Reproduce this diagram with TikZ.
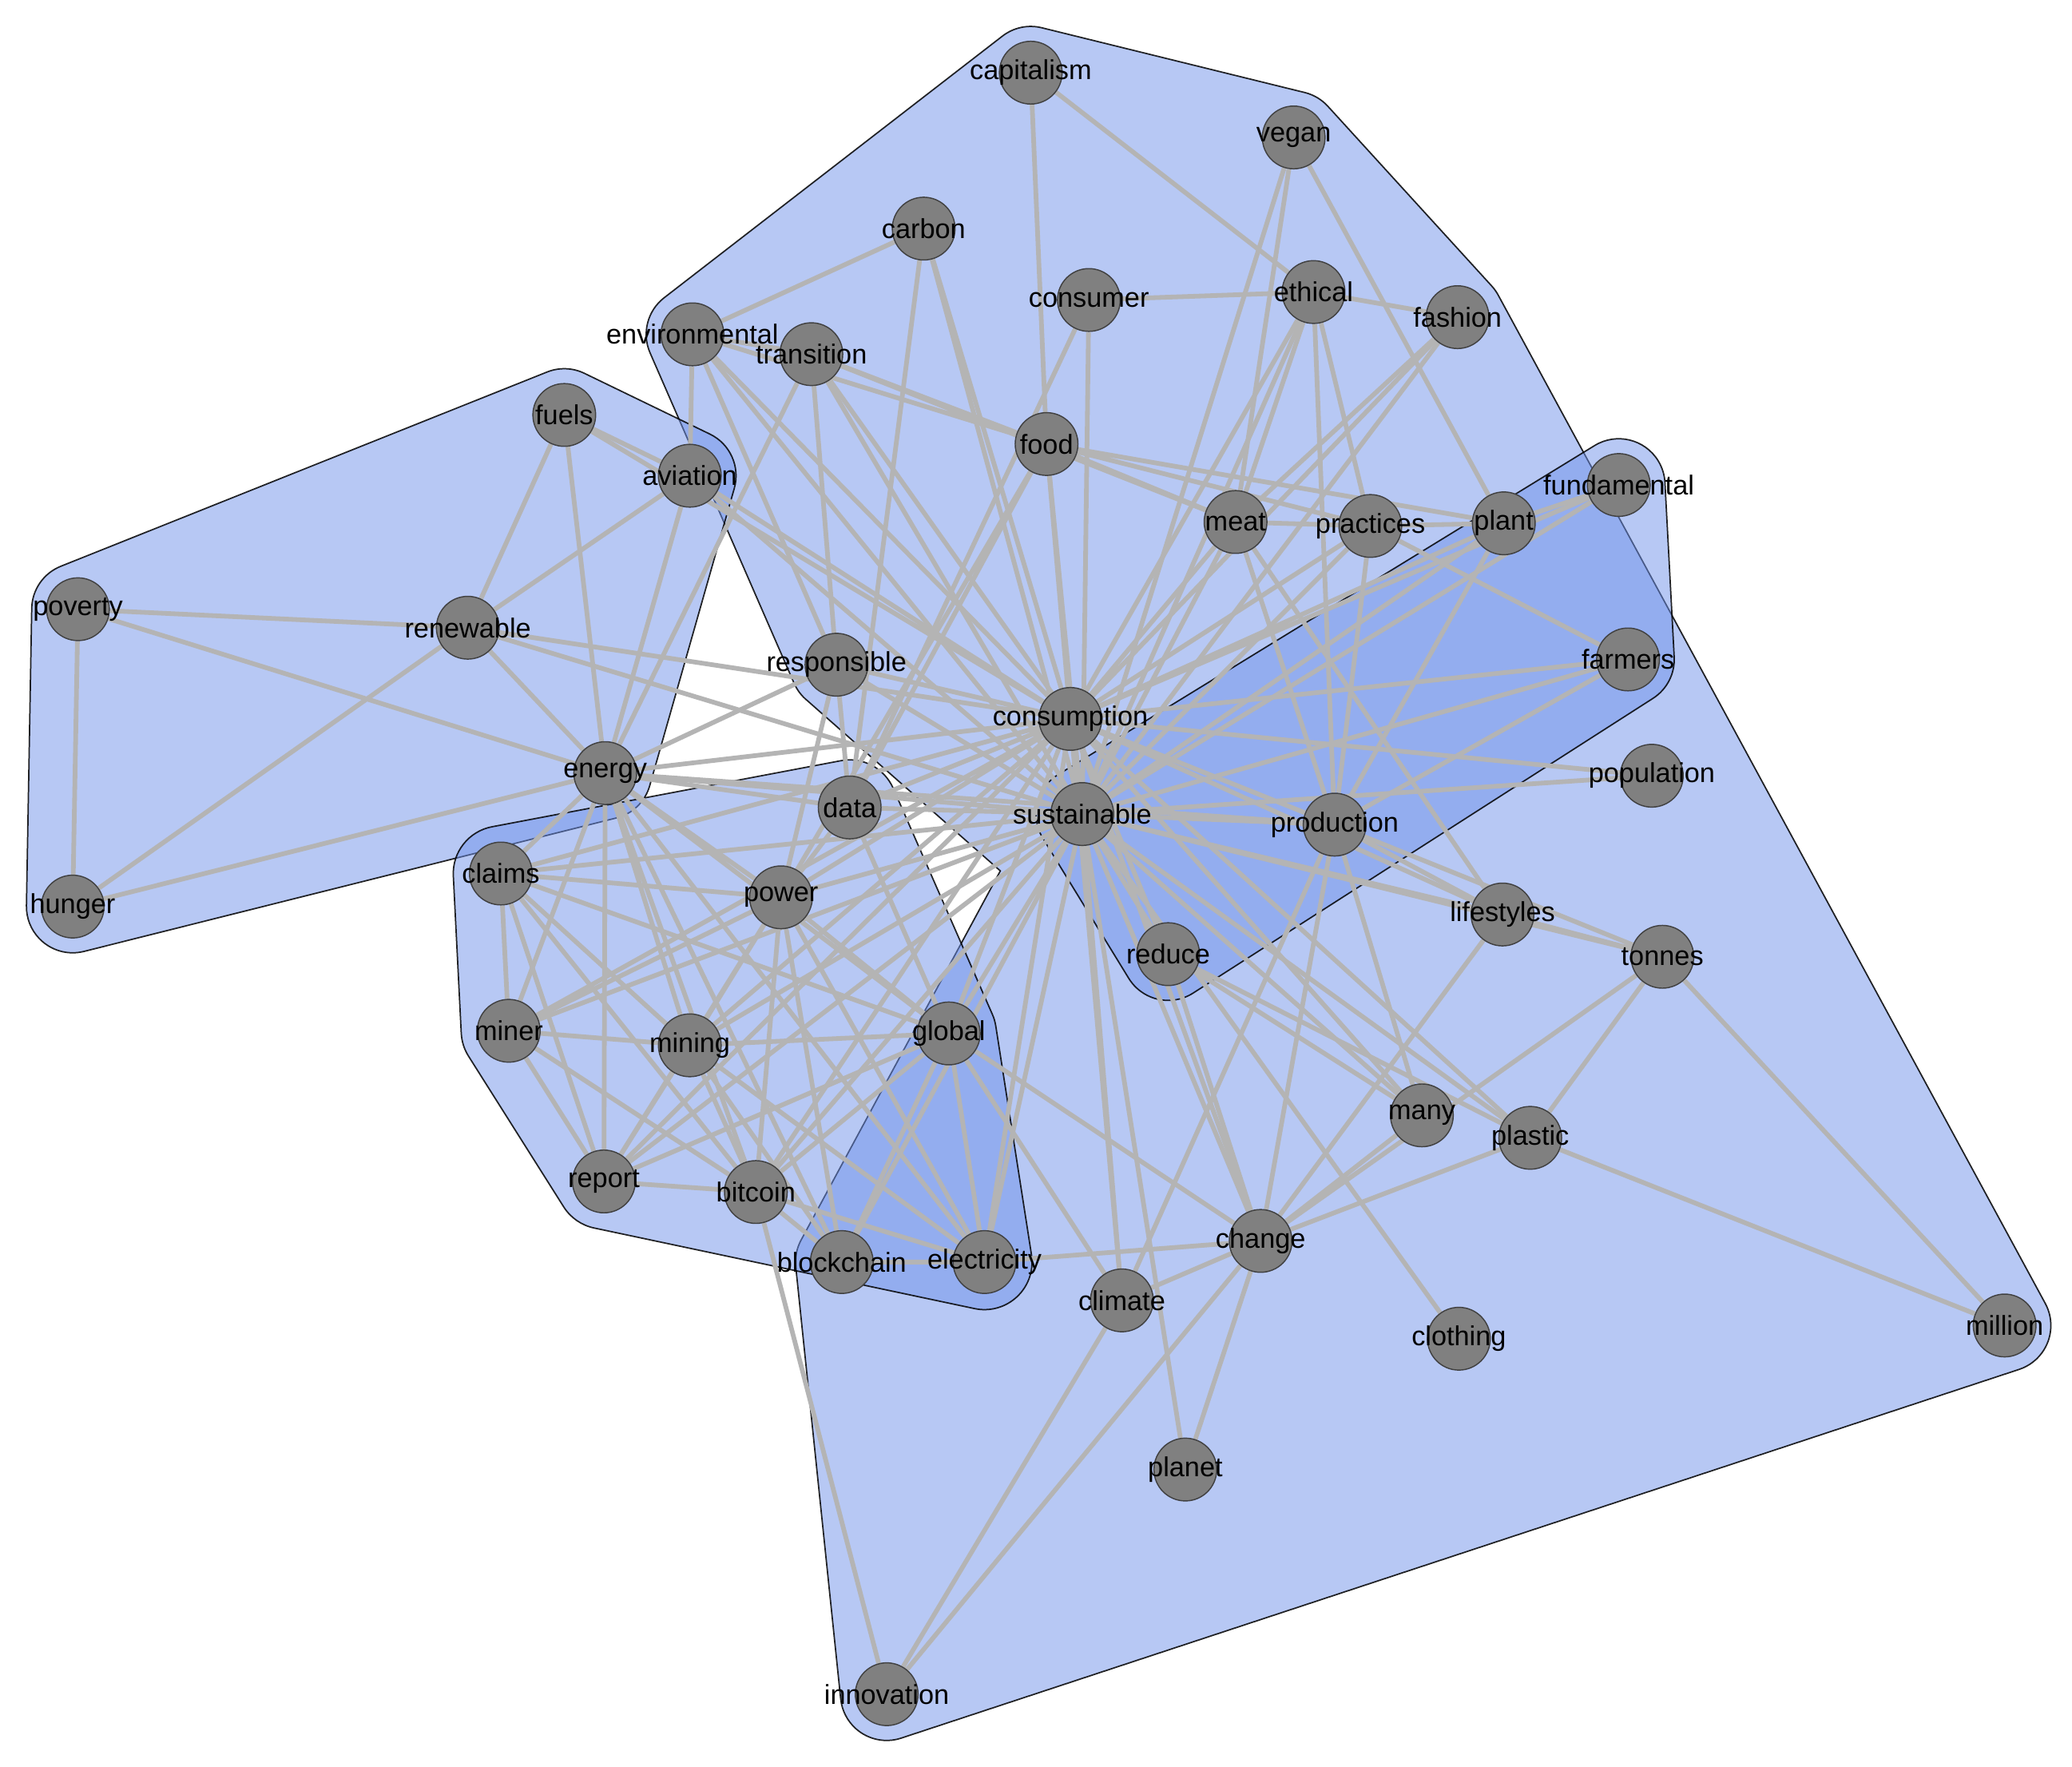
\documentclass[tikz,border=0pt]{standalone}
\usepackage{fontspec}
\setmainfont{Liberation Sans}
\usetikzlibrary{calc}
\definecolor{hullblue}{RGB}{113,147,235}
\definecolor{linkgray}{RGB}{180,180,180}
\definecolor{wordgray}{RGB}{128,128,128}
\definecolor{wordrim}{RGB}{64,64,64}
\pgfdeclarelayer{hulls}
\pgfdeclarelayer{links}
\pgfsetlayers{hulls,links,main}
\tikzset{
  word/.style={circle, draw=wordrim, fill=wordgray, line width=0.5pt, minimum size=0.95cm, inner sep=0pt},
  wordtext/.style={font=\fontsize{11.8}{13}\selectfont, inner sep=0pt, text=black},
  link/.style={draw=linkgray, line width=2pt},
  hull/.style={fill=hullblue, fill opacity=0.5, draw=black, draw opacity=0.85, line width=0.6pt}
}
\begin{document}
\begin{tikzpicture}[x=0.02cm,y=-0.02cm]
\useasboundingbox (0,0) rectangle (1568,1337);
\node[word,label={[wordtext]center:capitalism}] (capitalism) at (780,55) {};
\node[word,label={[wordtext]center:vegan}] (vegan) at (979,104) {};
\node[word,label={[wordtext]center:carbon}] (carbon) at (699,173) {};
\node[word,label={[wordtext]center:consumer}] (consumer) at (824,227) {};
\node[word,label={[wordtext]center:ethical}] (ethical) at (994,221) {};
\node[word,label={[wordtext]center:fashion}] (fashion) at (1103,240) {};
\node[word,label={[wordtext]center:environmental}] (environmental) at (524,253) {};
\node[word,label={[wordtext]center:transition}] (transition) at (614,268) {};
\node[word,label={[wordtext]center:fuels}] (fuels) at (427,314) {};
\node[word,label={[wordtext]center:aviation}] (aviation) at (522,360) {};
\node[word,label={[wordtext]center:food}] (food) at (792,336) {};
\node[word,label={[wordtext]center:meat}] (meat) at (935,395) {};
\node[word,label={[wordtext]center:practices}] (practices) at (1037,398) {};
\node[word,label={[wordtext]center:plant}] (plant) at (1138,396) {};
\node[word,label={[wordtext]center:fundamental}] (fundamental) at (1225,367) {};
\node[word,label={[wordtext]center:poverty}] (poverty) at (59,461) {};
\node[word,label={[wordtext]center:renewable}] (renewable) at (354,475) {};
\node[word,label={[wordtext]center:responsible}] (responsible) at (633,503) {};
\node[word,label={[wordtext]center:farmers}] (farmers) at (1232,499) {};
\node[word,label={[wordtext]center:consumption}] (consumption) at (810,544) {};
\node[word,label={[wordtext]center:energy}] (energy) at (458,585) {};
\node[word,label={[wordtext]center:population}] (population) at (1250,587) {};
\node[word,label={[wordtext]center:data}] (data) at (643,611) {};
\node[word,label={[wordtext]center:sustainable}] (sustainable) at (819,616) {};
\node[word,label={[wordtext]center:production}] (production) at (1010,624) {};
\node[word,label={[wordtext]center:claims}] (claims) at (379,661) {};
\node[word,label={[wordtext]center:power}] (power) at (591,679) {};
\node[word,label={[wordtext]center:hunger}] (hunger) at (55,686) {};
\node[word,label={[wordtext]center:lifestyles}] (lifestyles) at (1137,692) {};
\node[word,label={[wordtext]center:reduce}] (reduce) at (884,722) {};
\node[word,label={[wordtext]center:tonnes}] (tonnes) at (1258,724) {};
\node[word,label={[wordtext]center:miner}] (miner) at (385,780) {};
\node[word,label={[wordtext]center:mining}] (mining) at (522,791) {};
\node[word,label={[wordtext]center:global}] (global) at (718,782) {};
\node[word,label={[wordtext]center:many}] (many) at (1076,844) {};
\node[word,label={[wordtext]center:plastic}] (plastic) at (1158,861) {};
\node[word,label={[wordtext]center:report}] (report) at (457,894) {};
\node[word,label={[wordtext]center:bitcoin}] (bitcoin) at (572,902) {};
\node[word,label={[wordtext]center:blockchain}] (blockchain) at (637,955) {};
\node[word,label={[wordtext]center:electricity}] (electricity) at (745,955) {};
\node[word,label={[wordtext]center:change}] (change) at (954,939) {};
\node[word,label={[wordtext]center:climate}] (climate) at (849,984) {};
\node[word,label={[wordtext]center:clothing}] (clothing) at (1104,1013) {};
\node[word,label={[wordtext]center:million}] (million) at (1517,1003) {};
\node[word,label={[wordtext]center:planet}] (planet) at (897,1112) {};
\node[word,label={[wordtext]center:innovation}] (innovation) at (671,1282) {};

\begin{pgfonlayer}{hulls}
\fill[white] (0,0) rectangle (1568,1337);
\path[hull] ($(environmental)+(232.14:35)$) -- ($(capitalism)+(232.14:35)$) arc[start angle=232.14, end angle=283.77, radius=35]
  -- ($(vegan)+(283.77:35)$) arc[start angle=283.77, end angle=318.08, radius=35]
  -- ($(fashion)+(318.08:35)$) arc[start angle=318.08, end angle=331.52, radius=35]
  -- ($(million)+(331.52:35)$) arc[start angle=331.52, end angle=431.81, radius=35]
  -- ($(innovation)+(71.81:35)$) arc[start angle=71.81, end angle=174.06, radius=35]
  -- ($(blockchain)+(174.06:35)$) arc[start angle=174.06, end angle=208.1, radius=35]
  -- (757,659) -- ($(responsible)+(129.17:35)$) arc[start angle=129.17, end angle=156.36, radius=35]
  -- ($(environmental)+(156.36:35)$) arc[start angle=156.36, end angle=232.14, radius=35] -- cycle;
\path[hull] ($(poverty)+(248.23:35)$) -- ($(fuels)+(248.23:35)$) arc[start angle=248.23, end angle=295.84, radius=35]
  -- ($(aviation)+(295.84:35)$) arc[start angle=295.84, end angle=375.58, radius=35]
  -- ($(energy)+(15.58:35)$) arc[start angle=15.58, end angle=76.23, radius=35]
  -- ($(hunger)+(76.23:35)$) arc[start angle=76.23, end angle=181.02, radius=35]
  -- ($(poverty)+(181.02:35)$) arc[start angle=181.02, end angle=248.23, radius=35] -- cycle;
\path[hull] ($(claims)+(259.28:36)$) -- ($(data)+(259.28:36)$) arc[start angle=259.28, end angle=336.32, radius=36]
  -- ($(global)+(336.32:36)$) arc[start angle=336.32, end angle=351.13, radius=36]
  -- ($(electricity)+(351.13:36)$) arc[start angle=351.13, end angle=461.81, radius=36]
  -- ($(report)+(101.81:36)$) arc[start angle=101.81, end angle=147.59, radius=36]
  -- ($(miner)+(147.59:36)$) arc[start angle=147.59, end angle=177.11, radius=36]
  -- ($(claims)+(177.11:36)$) arc[start angle=177.11, end angle=259.28, radius=36] -- cycle;
\path[hull] ($(sustainable)+(238.58:35)$) -- ($(fundamental)+(238.58:35)$) arc[start angle=238.58, end angle=356.94, radius=35]
  -- ($(farmers)+(356.94:35)$) arc[start angle=356.94, end angle=417.35, radius=35]
  -- ($(reduce)+(57.35:35)$) arc[start angle=57.35, end angle=148.48, radius=35]
  -- ($(sustainable)+(148.48:35)$) arc[start angle=148.48, end angle=238.58, radius=35] -- cycle;
\end{pgfonlayer}

\begin{pgfonlayer}{links}
\draw[link] (consumption) -- (ethical) (consumption) -- (fashion) (consumption) -- (environmental) (consumption) -- (transition)
  (consumption) -- (fuels) (consumption) -- (aviation) (consumption) -- (food) (consumption) -- (meat)
  (consumption) -- (practices) (consumption) -- (plant) (consumption) -- (fundamental) (consumption) -- (renewable)
  (consumption) -- (responsible) (consumption) -- (farmers) (consumption) -- (energy) (consumption) -- (population)
  (consumption) -- (data) (consumption) -- (sustainable) (consumption) -- (production) (consumption) -- (claims)
  (consumption) -- (power) (consumption) -- (lifestyles) (consumption) -- (reduce) (consumption) -- (miner)
  (consumption) -- (mining) (consumption) -- (global) (consumption) -- (many) (consumption) -- (plastic)
  (consumption) -- (report) (consumption) -- (bitcoin) (consumption) -- (electricity) (consumption) -- (change)
  (consumption) -- (climate) (consumption) -- (carbon);
\draw[link] (sustainable) -- (vegan) (sustainable) -- (carbon) (sustainable) -- (consumer) (sustainable) -- (ethical)
  (sustainable) -- (fashion) (sustainable) -- (environmental) (sustainable) -- (transition) (sustainable) -- (aviation)
  (sustainable) -- (food) (sustainable) -- (meat) (sustainable) -- (practices) (sustainable) -- (plant)
  (sustainable) -- (fundamental) (sustainable) -- (renewable) (sustainable) -- (responsible) (sustainable) -- (farmers)
  (sustainable) -- (energy) (sustainable) -- (population) (sustainable) -- (data) (sustainable) -- (production)
  (sustainable) -- (claims) (sustainable) -- (power) (sustainable) -- (lifestyles) (sustainable) -- (reduce)
  (sustainable) -- (tonnes) (sustainable) -- (miner) (sustainable) -- (mining) (sustainable) -- (global)
  (sustainable) -- (many) (sustainable) -- (plastic) (sustainable) -- (report) (sustainable) -- (bitcoin)
  (sustainable) -- (blockchain) (sustainable) -- (electricity) (sustainable) -- (change) (sustainable) -- (climate)
  (sustainable) -- (clothing) (sustainable) -- (planet);
\draw[link] (capitalism) -- (food) (capitalism) -- (ethical) (vegan) -- (meat) (vegan) -- (plant)
  (carbon) -- (environmental) (carbon) -- (data) (consumer) -- (ethical) (consumer) -- (data)
  (ethical) -- (fashion) (ethical) -- (meat) (ethical) -- (practices) (ethical) -- (production) (fashion) -- (meat)
  (environmental) -- (transition) (environmental) -- (food) (environmental) -- (aviation) (environmental) -- (responsible)
  (transition) -- (food) (transition) -- (responsible) (transition) -- (energy) (transition) -- (meat);
\draw[link] (fuels) -- (renewable) (fuels) -- (energy) (fuels) -- (aviation) (aviation) -- (renewable) (aviation) -- (energy)
  (poverty) -- (renewable) (poverty) -- (energy) (poverty) -- (hunger) (hunger) -- (renewable) (hunger) -- (energy)
  (renewable) -- (energy);
\draw[link] (food) -- (meat) (food) -- (practices) (food) -- (plant) (food) -- (power) (food) -- (data)
  (meat) -- (practices) (meat) -- (production) (meat) -- (lifestyles) (practices) -- (plant) (practices) -- (farmers)
  (practices) -- (production) (plant) -- (fundamental) (plant) -- (production) (farmers) -- (production);
\draw[link] (responsible) -- (energy) (responsible) -- (data) (responsible) -- (power)
  (energy) -- (data) (energy) -- (power) (energy) -- (claims) (energy) -- (miner) (energy) -- (mining) (energy) -- (report)
  (energy) -- (bitcoin) (energy) -- (global) (energy) -- (electricity) (energy) -- (blockchain) (energy) -- (production)
  (data) -- (power) (data) -- (global);
\draw[link] (claims) -- (miner) (claims) -- (report) (claims) -- (mining) (claims) -- (power) (claims) -- (global) (claims) -- (bitcoin)
  (power) -- (miner) (power) -- (mining) (power) -- (report) (power) -- (bitcoin) (power) -- (global) (power) -- (electricity) (power) -- (blockchain)
  (miner) -- (mining) (miner) -- (report) (miner) -- (bitcoin)
  (mining) -- (report) (mining) -- (bitcoin) (mining) -- (global) (mining) -- (electricity) (mining) -- (blockchain)
  (report) -- (bitcoin) (report) -- (global)
  (bitcoin) -- (global) (bitcoin) -- (electricity) (bitcoin) -- (blockchain) (bitcoin) -- (innovation)
  (blockchain) -- (global) (blockchain) -- (electricity) (global) -- (electricity) (global) -- (climate) (global) -- (change)
  (electricity) -- (change);
\draw[link] (production) -- (lifestyles) (production) -- (tonnes) (production) -- (many) (production) -- (change) (production) -- (climate)
  (lifestyles) -- (change) (lifestyles) -- (tonnes) (reduce) -- (change) (reduce) -- (many) (reduce) -- (plastic)
  (tonnes) -- (plastic) (tonnes) -- (million) (tonnes) -- (change) (plastic) -- (million) (plastic) -- (change)
  (many) -- (change) (change) -- (climate) (change) -- (planet) (change) -- (innovation) (climate) -- (innovation);
\end{pgfonlayer}
\end{tikzpicture}
\end{document}
